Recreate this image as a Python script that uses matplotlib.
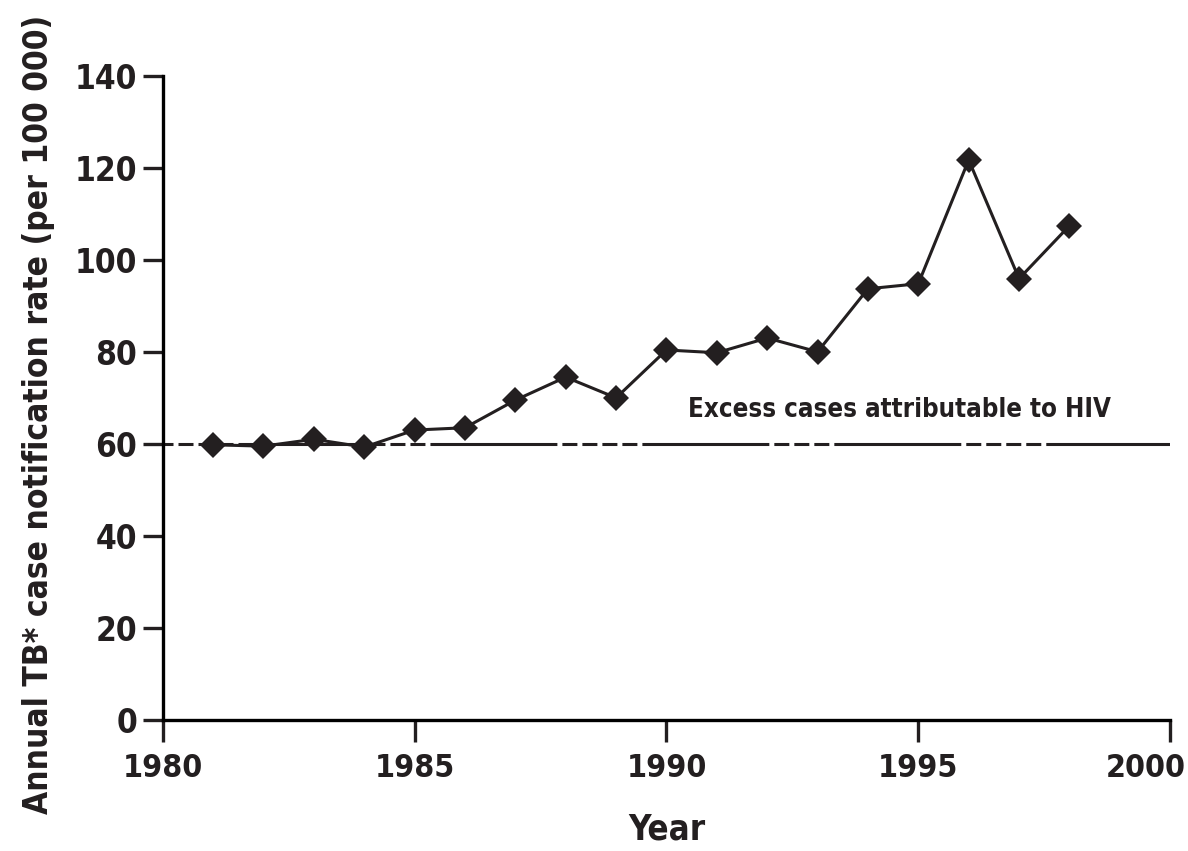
import matplotlib
matplotlib.use('Agg')
import matplotlib.pyplot as plt
from matplotlib.transforms import ScaledTranslation

plt.rcParams['font.family'] = ['DejaVu Sans']
plt.rcParams['font.stretch'] = 'condensed'
plt.rcParams['font.weight'] = 'bold'
plt.rcParams['lines.scale_dashes'] = False

# TB notification rate per 100 000
years = [1981, 1982, 1983, 1984, 1985, 1986, 1987, 1988, 1989,
         1990, 1991, 1992, 1993, 1994, 1995, 1996, 1997, 1998]
rates = [59.8, 59.5, 61.0, 59.3, 63.0, 63.5, 69.5, 74.5, 70.0,
         80.4, 79.8, 83.0, 80.0, 93.7, 94.8, 121.7, 95.9, 107.4]
baseline = 60
xticks = [1980, 1985, 1990, 1995, 2000]
yticks = [0, 20, 40, 60, 80, 100, 120, 140]

ink = '#231f20'

fig = plt.figure(figsize=(11.88, 8.51), dpi=100)
ax = fig.add_axes([0.137, 0.154, 0.848, 0.757])

ax.plot(years, rates, color=ink, lw=2.2, marker='D', markersize=13,
        markeredgewidth=0, zorder=3)
# irregular dash: long dash then 4 short, long then 3 short (in points)
dash = (91.4, 3.6, 10.8, 3.6, 10.8, 3.6, 10.8, 3.6, 10.8, 3.6,
        91.4, 3.6, 10.8, 3.6, 10.8, 3.6, 10.8, 3.6)
ax.axhline(baseline, color=ink, lw=2.2, linestyle=(98.6, dash))
ax.text(1990.43, 67.4, 'Excess cases attributable to HIV', fontsize=18.5,
        ha='left', va='center', color=ink)

ax.set_xlim(1980, 2000)
ax.set_ylim(0, 140)
ax.set_xticks(xticks)
ax.set_yticks(yticks)
ax.spines['top'].set_visible(False)
ax.spines['right'].set_visible(False)
ax.spines['left'].set_linewidth(2.4)
ax.spines['bottom'].set_linewidth(2.4)
ax.tick_params(direction='out', width=2.4, colors=ink)
ax.tick_params(axis='y', length=14.5, pad=4, labelsize=24)
ax.tick_params(axis='x', length=16, pad=8, labelsize=23)
# last year label sits left of its tick so it stays inside the figure
last = ax.get_xticklabels()[-1]
last.set_transform(last.get_transform() + ScaledTranslation(-0.24, 0, fig.dpi_scale_trans))

ax.set_xlabel('Year', fontsize=25, fontweight='bold', labelpad=20, color=ink)
ax.set_ylabel('Annual TB* case notification rate (per 100 000)', fontsize=24,
              fontweight='bold', color=ink)
ax.yaxis.set_label_coords(-0.107, 0.474)

fig.savefig('out.png', dpi=100)
